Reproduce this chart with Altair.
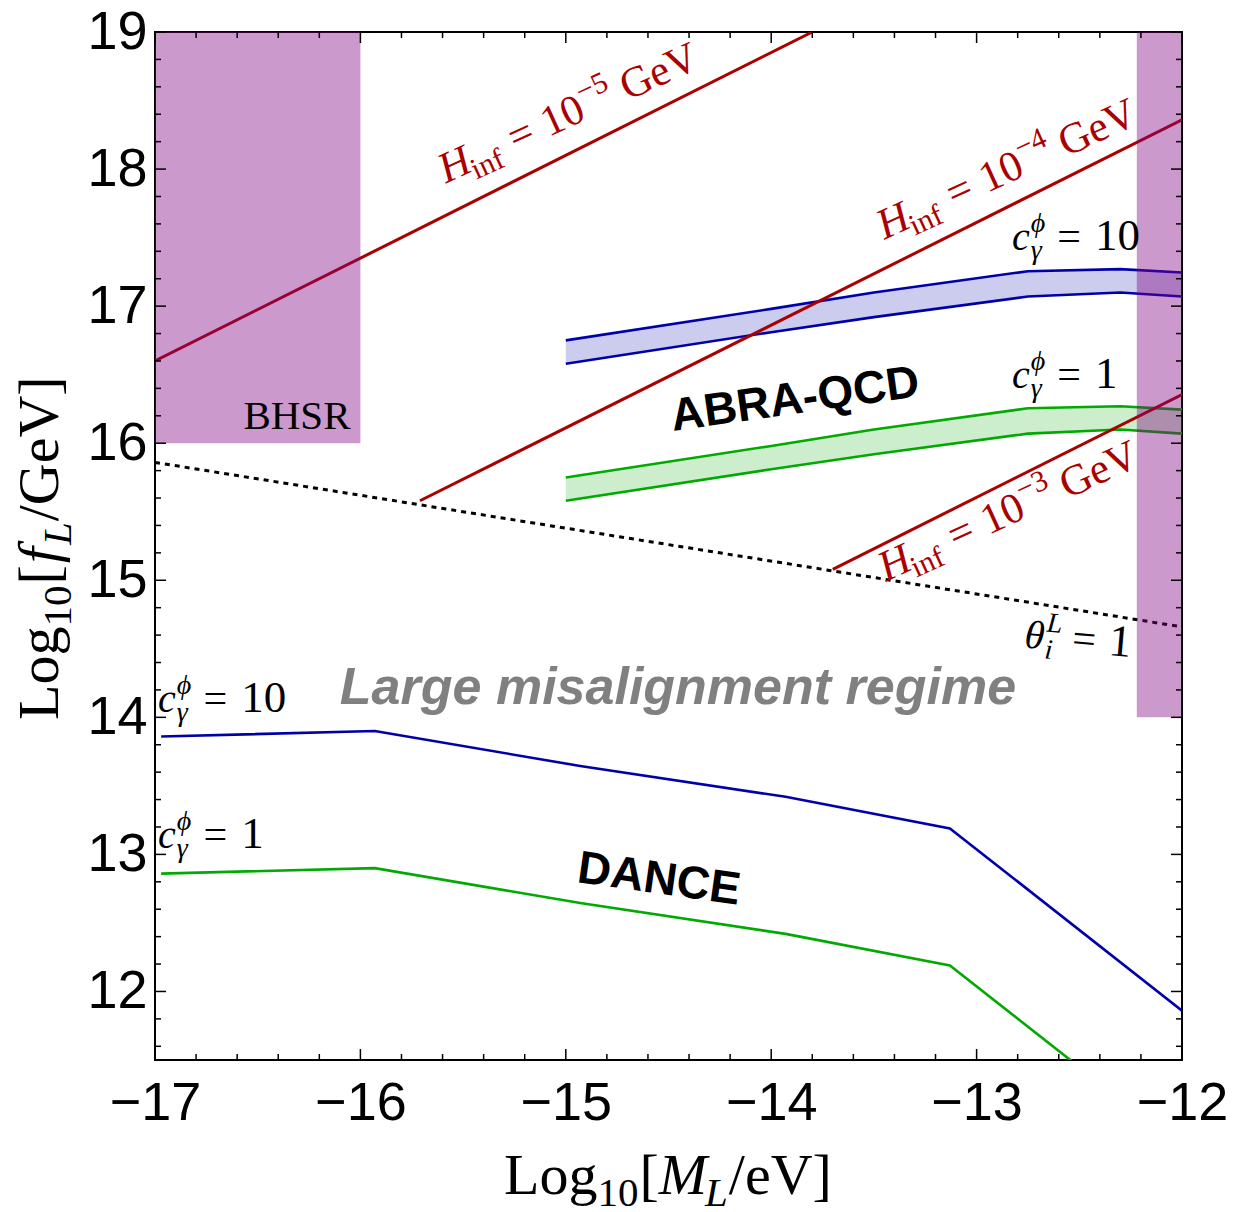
import altair as alt
import pandas as pd

# ---------------------------------------------------------------
# Data (all values are log10 quantities)
# ---------------------------------------------------------------
# BHSR exclusion boxes
bhsr_m_lo = [-17.0, -12.22]
bhsr_m_hi = [-16.0, -12.0]
bhsr_f_lo = [16.0, 14.0]
bhsr_f_hi = [19.0, 19.0]

# ABRA-QCD reach: shaded strip between an upper and a lower curve
abra_mass = [-15.0, -14.0, -13.5, -12.75, -12.3, -12.0]
abra10_upper = [16.75, 16.98, 17.10, 17.255, 17.27, 17.245]
abra10_lower = [16.58, 16.81, 16.92, 17.07, 17.10, 17.07]
abra1_upper = [15.75, 15.98, 16.10, 16.255, 16.27, 16.245]
abra1_lower = [15.58, 15.81, 15.92, 16.07, 16.10, 16.07]

# DANCE reach
dance_mass = [-16.97, -15.93, -14.93, -13.93, -13.13, -12.0]
dance10 = [13.86, 13.90, 13.645, 13.42, 13.19, 11.86]
dance1 = [12.86, 12.90, 12.645, 12.42, 12.19, 10.86]

# theta_i^L = 1 boundary
theta_mass = [-17.0, -12.0]
theta_f = [15.86, 14.66]

# H_inf contours
h5_mass, h5_f = [-17.0, -13.8], [16.6, 19.0]
h4_mass, h4_f = [-15.71, -12.0], [15.58, 18.36]
h3_mass, h3_f = [-13.70, -12.0], [15.08, 16.355]

# Axis ticks
x_major = [-17, -16, -15, -14, -13, -12]
y_major = [12, 13, 14, 15, 16, 17, 18, 19]
x_minor = [round(-17 + 0.2 * k, 1) for k in range(26) if k % 5]
y_minor = [v for v in (round(11.6 + 0.2 * k, 1) for k in range(37)) if abs(v - round(v)) > 0.01]

# Label anchors (baseline start of each annotation)
hinf_exp = ["\u22125", "\u22124", "\u22123"]
hinf_lab_m = [-15.583, -13.448, -13.441]
hinf_lab_f = [17.894, 17.485, 14.99]

cphi_values = ["10", "1", "10", "1"]
cphi_lab_m = [-12.828, -12.828, -16.985, -16.985]
cphi_lab_f = [17.412, 16.406, 14.042, 13.05]

# ---------------------------------------------------------------
# Styling
# ---------------------------------------------------------------
W, H = 1027, 1028
RED, BLUE, GREEN, PURPLE = "#aa0000", "#0000aa", "#00aa00", "#800080"
SERIF, SANS = "Liberation Serif", "Liberation Sans"

xs = alt.Scale(domain=[-17, -12], nice=False, zero=False)
ys = alt.Scale(domain=[11.5, 19], nice=False, zero=False)
x_axis = alt.Axis(values=x_major, format="d", labelFont=SANS, labelFontSize=54,
                  labelColor="black", labelPadding=16, labelFlush=False,
                  labelOverlap=False, ticks=False, domain=False, grid=False, title=None)
y_axis = alt.Axis(values=y_major, format="d", labelFont=SANS, labelFontSize=54,
                  labelColor="black", labelPadding=8, labelFlush=False,
                  labelOverlap=False, ticks=False, domain=False, grid=False, title=None)


def X(field="x"):
    return alt.X(field, type="quantitative", scale=xs, axis=x_axis)


def Y(field="y"):
    return alt.Y(field, type="quantitative", scale=ys, axis=y_axis)


# Times metrics (per 1000 em) used to lay out composite labels
TIMES_R = {" ": 250, "=": 564, "\u2212": 564, "G": 722, "e": 444, "V": 722, "H": 722,
           "i": 278, "n": 500, "f": 333, "L": 611, "o": 500, "g": 500, "[": 333,
           "]": 333, "/": 278, "M": 889}
TIMES_I = {"H": 722, "M": 833, "L": 556, "f": 278, "c": 444, "i": 278,
           "\u03b8": 500, "\u03d5": 560, "\u03b3": 440}


def text_width(s, size, italic):
    table = TIMES_I if italic else TIMES_R
    return sum(table.get(ch, 500) for ch in s) * size / 1000.0


def layout(runs):
    placed, pos, prev = [], 0.0, 0.0
    for text, size, italic, dy, gap, stack in runs:
        start = prev if stack else pos + gap
        placed.append((text, size, italic, dy, start))
        pos = max(pos, start + text_width(text, size, italic))
        prev = start
    return placed


def rich(runs, x_enc, y_enc, data, angle=0, color="black"):
    layers = []
    for text, size, italic, dy, dx in layout(runs):
        layers.append(
            alt.Chart(data).mark_text(
                text=text, font=SERIF, fontSize=size,
                fontStyle="italic" if italic else "normal",
                align="left", baseline="alphabetic", angle=angle,
                dx=dx, dy=dy, color=color,
            ).encode(x=x_enc, y=y_enc)
        )
    return layers


def rich_at(runs, m, f, angle=0, color="black"):
    df = pd.DataFrame({"x": [m], "y": [f]})
    return rich(runs, X(), Y(), df, angle, color)


def rich_px(runs, px, py, angle=0):
    df = pd.DataFrame({"k": [0]})
    return rich(runs, alt.value(px), alt.value(py), df, angle)


def line(xv, yv, color, width, dash=None):
    df = pd.DataFrame({"x": xv, "y": yv})
    kw = dict(color=color, strokeWidth=width, clip=True, strokeCap="butt")
    if dash:
        kw["strokeDash"] = dash
    return alt.Chart(df).mark_line(**kw).encode(x=X(), y=Y())


def band(xv, lo, hi, color):
    df = pd.DataFrame({"x": xv, "lo": lo, "hi": hi})
    return alt.Chart(df).mark_area(color=color, opacity=0.2, clip=True).encode(
        x=X(), y=Y("hi"), y2=alt.Y2("lo"))


def ticks_x(vals, length):
    df = pd.DataFrame({"x": vals})
    base = alt.Chart(df).mark_rule(color="black", strokeWidth=1.5)
    return [base.encode(x=X(), y=alt.value(H), y2=alt.value(H - length)),
            base.encode(x=X(), y=alt.value(0), y2=alt.value(length))]


def ticks_y(vals, length):
    df = pd.DataFrame({"y": vals})
    base = alt.Chart(df).mark_rule(color="black", strokeWidth=1.5)
    return [base.encode(y=Y(), x=alt.value(0), x2=alt.value(length)),
            base.encode(y=Y(), x=alt.value(W), x2=alt.value(W - length))]


layers = []

# shaded ABRA-QCD strips
layers.append(band(abra_mass, abra10_lower, abra10_upper, BLUE))
layers.append(band(abra_mass, abra1_lower, abra1_upper, GREEN))
for yv, c in [(abra10_upper, BLUE), (abra10_lower, BLUE),
              (abra1_upper, GREEN), (abra1_lower, GREEN)]:
    layers.append(line(abra_mass, yv, c, 2.6))

# DANCE curves
layers.append(line(dance_mass, dance10, BLUE, 2.6))
layers.append(line(dance_mass, dance1, GREEN, 2.6))

# theta boundary and H_inf contours
layers.append(line(theta_mass, theta_f, "black", 3, dash=[5, 5]))
for xv, yv in [(h5_mass, h5_f), (h4_mass, h4_f), (h3_mass, h3_f)]:
    layers.append(line(xv, yv, RED, 3))

# BHSR boxes (translucent purple on top)
rect_df = pd.DataFrame({"x": bhsr_m_lo, "x2": bhsr_m_hi, "y": bhsr_f_lo, "y2": bhsr_f_hi})
layers.append(alt.Chart(rect_df).mark_rect(color=PURPLE, opacity=0.4).encode(
    x=X(), x2="x2", y=Y(), y2="y2"))

# frame ticks pointing inward
layers += ticks_x(x_major, 11) + ticks_x(x_minor, 6)
layers += ticks_y(y_major, 11) + ticks_y(y_minor, 6)

# H_inf labels along the contours
for e, m, f in zip(hinf_exp, hinf_lab_m, hinf_lab_f):
    runs = [("H", 43, True, 0, 0, False),
            ("inf", 30, False, 9, -2, False),
            ("=", 43, False, 0, 14, False),
            ("10", 43, False, 0, 12, False),
            (e, 30, False, -18, 1, False),
            ("GeV", 43, False, 0, 11, False)]
    layers += rich_at(runs, m, f, angle=335.5, color=RED)

# c_gamma^phi labels
for v, m, f in zip(cphi_values, cphi_lab_m, cphi_lab_f):
    runs = [("c", 40, True, 0, 0, False),
            ("\u03d5", 28, True, -18, 1, False),
            ("\u03b3", 28, True, 9, 0, True),
            ("=", 42, False, 0, 11, False),
            (v, 45, False, 0, 14, False)]
    layers += rich_at(runs, m, f)

# theta_i^L = 1 label
theta_runs = [("\u03b8", 40, True, 0, 0, False),
              ("L", 28, True, -18, 1, False),
              ("i", 28, True, 9, 2, True),
              ("=", 42, False, 0, 11, False),
              ("1", 45, False, 0, 13, False)]
layers += rich_at(theta_runs, -12.77, 14.509, angle=5)

# region labels
def plain(text, m, f, font, size, weight="normal", style="normal", color="black", angle=0):
    df = pd.DataFrame({"x": [m], "y": [f]})
    return alt.Chart(df).mark_text(text=text, font=font, fontSize=size, fontWeight=weight,
                                   fontStyle=style, color=color, angle=angle,
                                   align="center", baseline="middle").encode(x=X(), y=Y())


layers.append(plain("BHSR", -16.309, 16.194, SERIF, 41))
layers.append(plain("ABRA-QCD", -13.884, 16.318, SANS, 46, weight="bold", angle=352))
layers.append(plain("DANCE", -14.546, 12.817, SANS, 46, weight="bold", angle=8))
layers.append(plain("Large misalignment regime", -14.454, 14.217, SANS, 52,
                    weight="bold", style="italic", color="#808080"))

# axis titles
xt_runs = [("Log", 58, False, 0, 0, False),
           ("10", 41, False, 12, 0, False),
           ("[", 58, False, 0, 1, False),
           ("M", 58, True, 0, 0, False),
           ("L", 41, True, 12, -2, False),
           ("/eV]", 58, False, 0, 1, False)]
layers += rich_px(xt_runs, 349, 1162)

yt_runs = [("Log", 58, False, 0, 0, False),
           ("10", 41, False, 13, 0, False),
           ("[", 58, False, 0, 1, False),
           ("f", 58, True, 0, 2, False),
           ("L", 41, True, 13, 2, False),
           ("/GeV]", 58, False, 0, 1, False)]
layers += rich_px(yt_runs, -97, 688, angle=270)

chart = alt.layer(*layers).properties(
    width=W, height=H,
    autosize=alt.AutoSizeParams(type="none"),
    padding={"left": 155, "top": 32, "right": 55, "bottom": 152},
    background="white",
).configure_view(stroke="black", strokeWidth=2)

chart.save("out.html", embed_options={"renderer": "svg", "actions": False})
